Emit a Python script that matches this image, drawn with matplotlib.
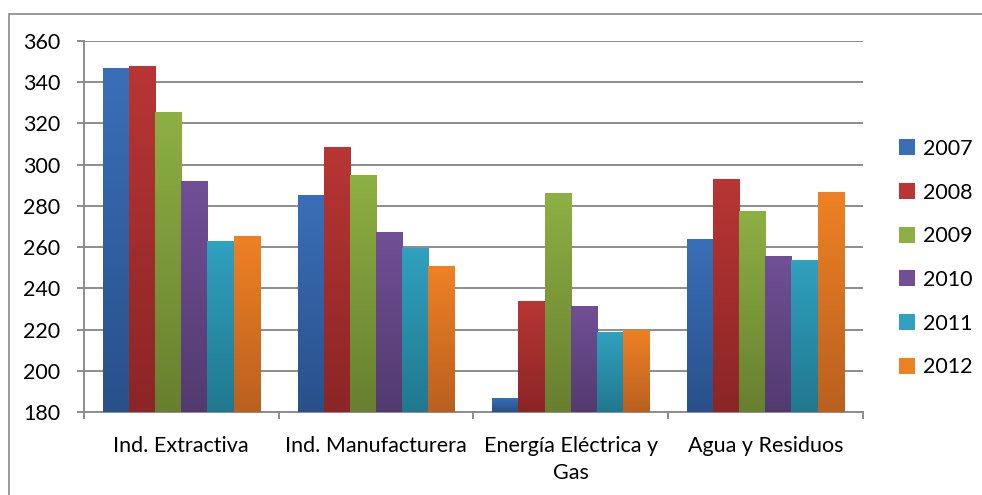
import matplotlib
matplotlib.use("Agg")
import matplotlib.pyplot as plt
import numpy as np
from matplotlib.colors import LinearSegmentedColormap
from matplotlib.patches import Rectangle

plt.rcParams["font.family"] = ["Lato", "DejaVu Sans"]

categories = ["Ind. Extractiva", "Ind. Manufacturera", "Energía Eléctrica y\nGas", "Agua y Residuos"]
years = ["2007", "2008", "2009", "2010", "2011", "2012"]
v2007 = [347, 285.3, 186.8, 264]
v2008 = [348, 308.6, 234, 293]
v2009 = [325.6, 295, 286.3, 277.5]
v2010 = [292, 267.3, 231.4, 255.7]
v2011 = [262.8, 259.7, 218.8, 253.8]
v2012 = [265.4, 250.8, 219.8, 286.7]
series = [v2007, v2008, v2009, v2010, v2011, v2012]

# top colour, bottom colour for each year (Excel 2007 gradient look)
top_colors = ["#3a6fb8", "#b83634", "#8db043", "#714f96", "#30a1bf", "#ef8125"]
bot_colors = ["#29508a", "#8b2526", "#687f2f", "#523a6f", "#21788e", "#b9601f"]

fig = plt.figure(figsize=(9.82, 4.95), dpi=100)
ax = fig.add_axes([0.0855, 0.1677, 0.793, 0.7495])

# outer chart frame (only top and left visible)
fig.patches.append(Rectangle((9 / 982, -0.1), 1.2, 1 - 14 / 495 + 0.1,
                             transform=fig.transFigure, fill=False,
                             edgecolor="#878787", linewidth=1.2, zorder=0))

n = len(years)
bw = 0.806 / n
x = np.arange(len(categories))
grad = np.linspace(1, 0, 256).reshape(-1, 1)

for i, (vals, tc, bc) in enumerate(zip(series, top_colors, bot_colors)):
    offs = x - 0.403 + bw * (i + 0.5)
    bars = ax.bar(offs, np.array(vals) - 180, bw, bottom=180, color=tc,
                  linewidth=0, label=years[i], zorder=3)
    cmap = LinearSegmentedColormap.from_list("g%d" % i, [bc, tc])
    for p in bars:
        x0, y0 = p.get_x(), p.get_y()
        w, h = p.get_width(), p.get_height()
        im = ax.imshow(grad, extent=[x0, x0 + w, y0, y0 + h], cmap=cmap,
                       aspect="auto", zorder=3.5, interpolation="bilinear",
                       vmin=0, vmax=1)
        im.set_clip_path(p)

ax.set_xlim(-0.5, len(categories) - 0.5)
ax.set_ylim(180, 360)
ax.set_yticks(np.arange(180, 361, 20))
ax.set_xticks(x)
ax.set_xticklabels(categories, linespacing=1.45)
ax.set_xticks(np.arange(-0.5, len(categories), 1), minor=True)

ax.grid(axis="y", color="#8c8c8c", linewidth=1.4, zorder=1)
ax.set_axisbelow(True)
for s in ["top", "right"]:
    ax.spines[s].set_visible(False)
for s in ["left", "bottom"]:
    ax.spines[s].set_color("#8c8c8c")
    ax.spines[s].set_linewidth(1.4)

ax.tick_params(axis="y", length=5, width=1.4, color="#8c8c8c",
               labelsize=15.5, pad=12)
ax.tick_params(axis="x", which="major", length=0, labelsize=15.5, pad=17)
ax.tick_params(axis="x", which="minor", length=5, width=1.4, color="#8c8c8c")

leg = ax.legend(loc="center left", bbox_to_anchor=(1.035, 0.415), frameon=False,
                fontsize=15.5, handlelength=0.75, handleheight=0.75,
                handletextpad=0.4, labelspacing=1.1, borderaxespad=0)

fig.savefig("out.png", dpi=100)
